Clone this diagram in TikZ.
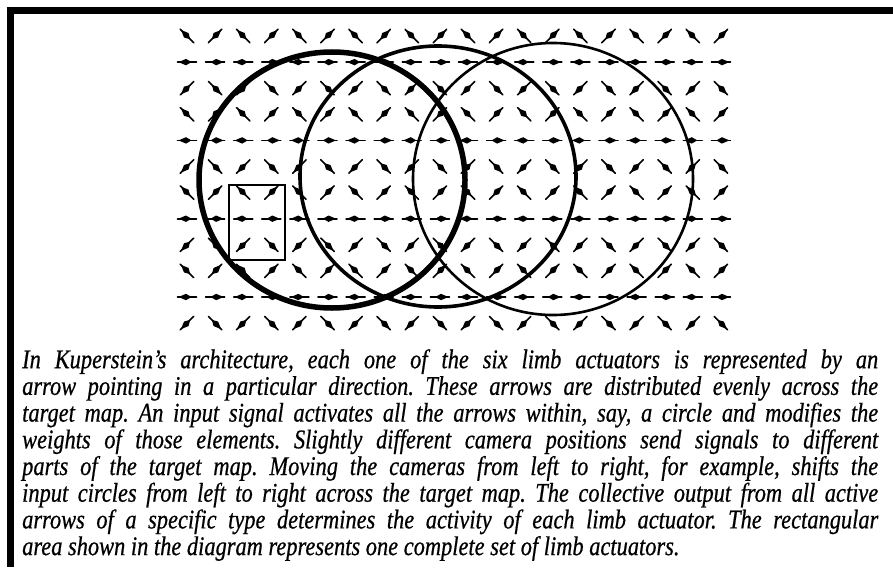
\documentclass[tikz,border=0pt]{standalone}
\usepackage{fontspec}
\setmainfont{Liberation Serif}
\newfontfamily\captionfont[FakeStretch=0.83,FakeBold=0.6]{Liberation Serif}
\usetikzlibrary{arrows.meta}
\tikzset{
    actuator/.style={line width=1.6pt,line cap=round},
    inputcircle/.style={draw=black},
    setbox/.style={draw=black,line width=2.4pt},
    frameline/.style={line width=7pt},
    caption/.style={inner sep=0pt,text width=856pt,align=justify,
        font=\captionfont\itshape\fontsize{27}{26.7}\selectfont},
}
% one limb actuator: x, y, direction
\newcommand{\actuator}[3]{%
    \begin{scope}[shift={(#1,#2)},rotate=#3]
        \draw[actuator] (-9.5,0) -- (9.5,0);
        \fill (8.5,0) -- (1,3.2) -- (-4.5,0) -- (1,-3.2) -- cycle;
    \end{scope}}

\begin{document}
\frenchspacing
\begin{tikzpicture}[x=1pt,y=-1pt]
    \useasboundingbox (0,0) rectangle (893,567);

    % frame
    \draw[frameline] (6.5,11) -- (893,11);
    \draw[frameline] (10.5,7.5) -- (10.5,567);

    % target map: rows of six actuator directions
    \foreach \r in {0,...,11} {
        \foreach \c in {0,...,19} {
            \pgfmathsetmacro{\ax}{187+28.1*\c}
            \pgfmathsetmacro{\ay}{36+26.1*\r}
            \pgfmathtruncatemacro{\kind}{mod(\r,3)}
            \pgfmathtruncatemacro{\side}{mod(\c,2)}
            \pgfmathsetmacro{\ang}{\kind==0 ? (\side==0 ? 135 : 45) : (\kind==1 ? (\side==0 ? 180 : 0) : (\side==0 ? 225 : 315))}
            \actuator{\ax}{\ay}{\ang}
        }
    }

    % input circles
    \draw[inputcircle,line width=5.5pt] (332,180) ellipse [x radius=133pt,y radius=128pt];
    \draw[inputcircle,line width=3.6pt] (438,176.5) ellipse [x radius=138pt,y radius=130.5pt];
    \draw[inputcircle,line width=2.6pt] (553,179) ellipse [x radius=140pt,y radius=136pt];

    % one complete set
    \draw[setbox] (229,185) rectangle (285,260);

    % caption
    \node[caption,anchor=north west] (text) at (22,349) {%
        In Kuperstein’s architecture, each one of the six limb actuators is represented by an\linebreak
        arrow pointing in a particular direction. These arrows are distributed evenly across the\linebreak
        target map. An input signal activates all the arrows within, say, a circle and modifies the\linebreak
        weights of those elements. Slightly different camera positions send signals to different\linebreak
        parts of the target map. Moving the cameras from left to right, for example, shifts the\linebreak
        input circles from left to right across the target map. The collective output from all active\linebreak
        arrows of a specific type determines the activity of each limb actuator. The rectangular\linebreak
        area shown in the diagram represents one complete set of limb actuators.};
\end{tikzpicture}
\end{document}
